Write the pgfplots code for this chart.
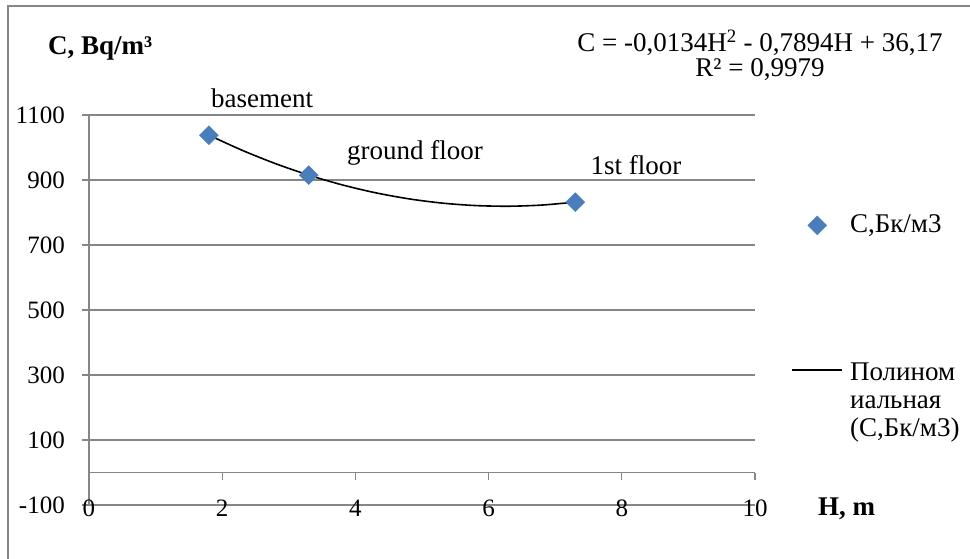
\documentclass[border=0pt]{standalone}
\usepackage{pgfplots}
\pgfplotsset{compat=1.18}
\usepackage{fontspec}
\setmainfont{Liberation Serif}
\definecolor{gridgray}{RGB}{134,134,134}
\definecolor{mblue}{RGB}{74,126,187}
\pgfplotsset{
  markleg/.style={legend image code/.code={\draw[mark repeat=2,mark phase=2,##1] plot coordinates {(0pt,0pt) (25pt,0pt) (50pt,0pt)};}},
  lineleg/.style={legend image code/.code={\draw[##1] (0pt,3pt) -- (50pt,3pt);}},
}
\newcommand{\bigf}{\fontsize{27}{28}\selectfont}
\begin{document}
\bigf
\begin{tikzpicture}[x=1pt,y=1pt]
\useasboundingbox (0,0) rectangle (970,-559);
\draw[gridgray, line width=1.2pt] (8,-700) -- (8,-6) -- (1100,-6);
\node[anchor=base west, font=\bigf\bfseries, inner sep=0pt] at (48,-55) {C, Bq/m³};
\node[anchor=base west, font=\bigf\bfseries, inner sep=0pt] at (818,-515) {H, m};
\node[anchor=base, inner sep=0pt] at (760,-52) {C = -0,0134H\textsuperscript{2} - 0,7894H + 36,17};
\node[anchor=base, inner sep=0pt] at (760,-77) {R² = 0,9979};
\begin{axis}[
  at={(89pt,-505pt)}, anchor=south west,
  scale only axis, width=666pt, height=390pt,
  xmin=0, xmax=10, ymin=-100, ymax=1100,
  axis x line=middle, axis y line=left,
  axis line style={-, gridgray, line width=1.2pt},
  hide obscured x ticks=false, hide obscured y ticks=false,
  xtick={0,2,4,6,8,10}, xticklabels={0,2,4,6,8,10},
  ytick={-100,100,300,500,700,900,1100},
  yticklabels={-100,100,300,500,700,900,1100},
  ymajorgrids=true,
  major grid style={gridgray, line width=1.2pt},
  tick align=outside, major tick length=7pt,
  tick style={gridgray, line width=1.2pt},
  ticklabel style={font=\fontsize{25}{28}\selectfont},
  xticklabel style={yshift=-11pt},
  yticklabel style={xshift=-8pt},
  clip=false,
  legend style={at={(1.05,0.756)}, anchor=north west, draw=none, fill=none,
    font=\bigf, row sep=121pt, column sep=5pt, cells={anchor=west}},
]
\addplot[only marks, mark=square*, mark size=6.7pt,
  mark options={rotate=45, fill=mblue, draw=mblue}, markleg]
  coordinates {(1.8,1038) (3.3,915) (7.3,832)};
\addlegendentry{С,Бк/м3}
\addplot[black, line width=1.6pt, smooth, no marks, lineleg]
  coordinates {(1.8,1038) (2.3,991.4) (2.8,950.4) (3.3,915) (3.8,885.1) (4.3,860.8) (4.8,842.1) (5.3,829.0) (5.8,821.4) (6.3,819.3) (6.8,822.9) (7.3,832.0)};
\addlegendentry{\begin{tabular}[t]{@{}l@{}}Полином\\иальная\\(С,Бк/м3)\end{tabular}}
\node[anchor=base, inner sep=0pt] at (axis cs:2.6,1124.6) {basement};
\node[anchor=base, inner sep=0pt] at (axis cs:4.895,964.6) {ground floor};
\node[anchor=base, inner sep=0pt] at (axis cs:8.213,915.4) {1st floor};
\end{axis}
\end{tikzpicture}
\end{document}
